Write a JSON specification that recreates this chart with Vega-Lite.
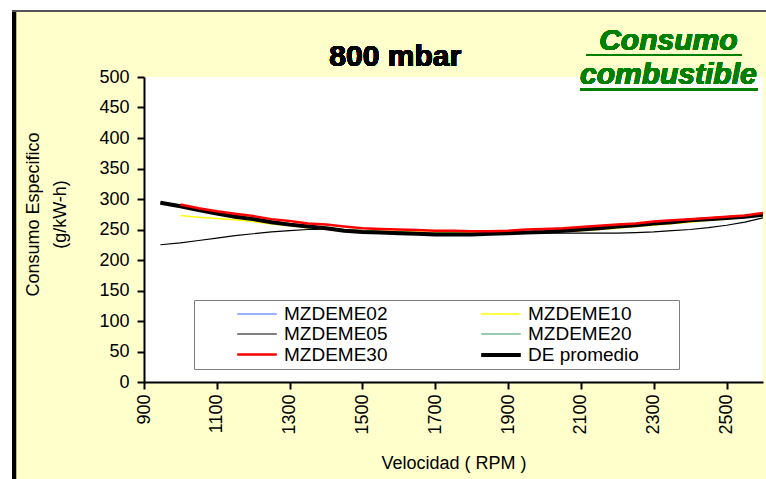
{
 "$schema": "https://vega.github.io/schema/vega-lite/v6.json",
 "width": 619, "height": 305,
 "autosize": {"type": "none"},
 "padding": {"left": 144, "top": 77, "right": 3, "bottom": 97},
 "background": "white",
 "config": {"view": {"fill": "white", "stroke": null}, "font": "Liberation Sans", "axisY": {"tickCount": 12, "labelOverlap": false}},
 "data": {"values": [
  {"rpm": 930, "MZDEME10": 277, "MZDEME30": 298},
  {"rpm": 945, "MZDEME02": 294, "MZDEME05": 225, "MZDEME20": 295, "DE promedio": 294},
  {"rpm": 1000, "MZDEME02": 288, "MZDEME05": 228, "MZDEME10": 273, "MZDEME20": 290, "MZDEME30": 291, "DE promedio": 288},
  {"rpm": 1050, "MZDEME02": 282, "MZDEME05": 232, "MZDEME10": 270, "MZDEME20": 284, "MZDEME30": 285, "DE promedio": 282},
  {"rpm": 1100, "MZDEME02": 276, "MZDEME05": 236, "MZDEME10": 268, "MZDEME20": 278, "MZDEME30": 280, "DE promedio": 276},
  {"rpm": 1150, "MZDEME02": 271, "MZDEME05": 240, "MZDEME10": 266, "MZDEME20": 273, "MZDEME30": 276, "DE promedio": 271},
  {"rpm": 1200, "MZDEME02": 267, "MZDEME05": 243, "MZDEME10": 263, "MZDEME20": 269, "MZDEME30": 272, "DE promedio": 267},
  {"rpm": 1250, "MZDEME02": 262, "MZDEME05": 246, "MZDEME10": 259, "MZDEME20": 264, "MZDEME30": 267, "DE promedio": 262},
  {"rpm": 1300, "MZDEME02": 258, "MZDEME05": 248, "MZDEME10": 256, "MZDEME20": 260, "MZDEME30": 264, "DE promedio": 258},
  {"rpm": 1350, "MZDEME02": 255, "MZDEME05": 250, "MZDEME10": 253, "MZDEME20": 257, "MZDEME30": 260, "DE promedio": 255},
  {"rpm": 1400, "MZDEME02": 252, "MZDEME05": 250, "MZDEME10": 251, "MZDEME20": 253, "MZDEME30": 258, "DE promedio": 252},
  {"rpm": 1450, "MZDEME02": 248, "MZDEME05": 249, "MZDEME10": 249, "MZDEME20": 250, "MZDEME30": 255, "DE promedio": 248},
  {"rpm": 1500, "MZDEME02": 246, "MZDEME05": 248, "MZDEME10": 248, "MZDEME20": 248, "MZDEME30": 252, "DE promedio": 246},
  {"rpm": 1550, "MZDEME02": 245, "MZDEME05": 247, "MZDEME10": 247, "MZDEME20": 247, "MZDEME30": 251, "DE promedio": 245},
  {"rpm": 1600, "MZDEME02": 244, "MZDEME05": 246, "MZDEME10": 247, "MZDEME20": 246, "MZDEME30": 250, "DE promedio": 244},
  {"rpm": 1650, "MZDEME02": 243, "MZDEME05": 245, "MZDEME10": 246, "MZDEME20": 245, "MZDEME30": 249, "DE promedio": 243},
  {"rpm": 1700, "MZDEME02": 242, "MZDEME05": 244, "MZDEME10": 245, "MZDEME20": 244, "MZDEME30": 248, "DE promedio": 242},
  {"rpm": 1750, "MZDEME02": 242, "MZDEME05": 244, "MZDEME10": 245, "MZDEME20": 244, "MZDEME30": 248, "DE promedio": 242},
  {"rpm": 1800, "MZDEME02": 242, "MZDEME05": 244, "MZDEME10": 245, "MZDEME20": 244, "MZDEME30": 247, "DE promedio": 242},
  {"rpm": 1850, "MZDEME02": 243, "MZDEME05": 244, "MZDEME10": 245, "MZDEME20": 245, "MZDEME30": 247, "DE promedio": 243},
  {"rpm": 1900, "MZDEME02": 244, "MZDEME05": 244, "MZDEME10": 245, "MZDEME20": 246, "MZDEME30": 248, "DE promedio": 244},
  {"rpm": 1950, "MZDEME02": 245, "MZDEME05": 244, "MZDEME10": 245, "MZDEME20": 247, "MZDEME30": 250, "DE promedio": 245},
  {"rpm": 2000, "MZDEME02": 246, "MZDEME05": 244, "MZDEME10": 246, "MZDEME20": 248, "MZDEME30": 251, "DE promedio": 246},
  {"rpm": 2050, "MZDEME02": 248, "MZDEME05": 244, "MZDEME10": 247, "MZDEME20": 250, "MZDEME30": 252, "DE promedio": 248},
  {"rpm": 2100, "MZDEME02": 250, "MZDEME05": 244, "MZDEME10": 248, "MZDEME20": 252, "MZDEME30": 254, "DE promedio": 250},
  {"rpm": 2150, "MZDEME02": 252, "MZDEME05": 244, "MZDEME10": 250, "MZDEME20": 254, "MZDEME30": 256, "DE promedio": 252},
  {"rpm": 2200, "MZDEME02": 255, "MZDEME05": 244, "MZDEME10": 252, "MZDEME20": 256, "MZDEME30": 258, "DE promedio": 255},
  {"rpm": 2250, "MZDEME02": 257, "MZDEME05": 245, "MZDEME10": 255, "MZDEME20": 258, "MZDEME30": 260, "DE promedio": 257},
  {"rpm": 2300, "MZDEME02": 260, "MZDEME05": 246, "MZDEME10": 257, "MZDEME20": 261, "MZDEME30": 263, "DE promedio": 260},
  {"rpm": 2350, "MZDEME02": 262, "MZDEME05": 248, "MZDEME10": 260, "MZDEME20": 263, "MZDEME30": 265, "DE promedio": 262},
  {"rpm": 2400, "MZDEME02": 265, "MZDEME05": 250, "MZDEME10": 262, "MZDEME20": 266, "MZDEME30": 267, "DE promedio": 265},
  {"rpm": 2450, "MZDEME02": 267, "MZDEME05": 253, "MZDEME10": 265, "MZDEME20": 268, "MZDEME30": 269, "DE promedio": 267},
  {"rpm": 2500, "MZDEME02": 269, "MZDEME05": 257, "MZDEME10": 267, "MZDEME20": 270, "MZDEME30": 271, "DE promedio": 269},
  {"rpm": 2550, "MZDEME02": 271, "MZDEME05": 262, "MZDEME10": 270, "MZDEME20": 272, "MZDEME30": 273, "DE promedio": 271},
  {"rpm": 2600, "MZDEME02": 274, "MZDEME05": 269, "MZDEME10": 273, "MZDEME20": 275, "MZDEME30": 277, "DE promedio": 274}
 ]},
 "layer": [
  {
   "mark": {"type": "rect", "fill": "#FFFFCC", "clip": false},
   "encoding": {"x": {"datum": 537.5}, "x2": {"datum": 4000}, "y": {"datum": 609.8}, "y2": {"datum": -500}}
  },
  {
   "mark": {"type": "rect", "fill": "white"},
   "encoding": {"x": {"datum": 900}, "x2": {"datum": 2600}, "y": {"datum": 0}, "y2": {"datum": 500}}
  },
  {
   "mark": {"type": "rule", "color": "black", "strokeWidth": 4, "clip": false},
   "encoding": {"x": {"datum": 543}, "y": {"datum": 609.8}, "y2": {"datum": -500}}
  },
  {
   "mark": {"type": "rule", "color": "#555555", "strokeWidth": 2, "clip": false},
   "encoding": {"x": {"datum": 537.5}, "x2": {"datum": 4000}, "y": {"datum": 608}}
  },
  {
   "transform": [{"fold": ["MZDEME02", "MZDEME05", "MZDEME10", "MZDEME20", "DE promedio", "MZDEME30"], "as": ["serie", "valor"]}],
   "mark": {"type": "line", "clip": true},
   "encoding": {
    "x": {"field": "rpm", "type": "quantitative", "scale": {"domain": [900, 2600], "nice": false, "zero": false},
      "axis": {"values": [900, 1100, 1300, 1500, 1700, 1900, 2100, 2300, 2500], "tickCount": 12, "format": "d", "zindex": 1, "grid": false, "labelAngle": 270, "labelFontSize": 18, "labelColor": "black", "labelPadding": 5, "labelOverlap": false, "domainColor": "black", "domainWidth": 2, "tickColor": "black", "tickWidth": 2, "tickSize": 7, "title": "Velocidad ( RPM )", "titleFontSize": 18, "titleFontWeight": "normal", "titleColor": "black", "titleY": 72, "titleBaseline": "top"}},
    "y": {"field": "valor", "type": "quantitative", "scale": {"domain": [0, 500], "nice": false},
      "axis": {"values": [0, 50, 100, 150, 200, 250, 300, 350, 400, 450, 500], "tickCount": 12, "format": "d", "zindex": 1, "grid": false, "labelFontSize": 18, "labelColor": "black", "labelPadding": 8, "labelOverlap": false, "domainColor": "black", "domainWidth": 2, "tickColor": "black", "tickWidth": 2, "tickSize": 7, "title": ["Consumo Especifico", "(g/kW-h)"], "titleFontSize": 18, "titleFontWeight": "normal", "titleColor": "black", "titleX": -102, "titleY": 137, "titleLineHeight": 27, "titleBaseline": "bottom", "titleAngle": 270}},
    "color": {"field": "serie", "type": "ordinal",
      "scale": {"type": "ordinal", "domain": ["MZDEME02", "MZDEME05", "MZDEME30", "MZDEME10", "MZDEME20", "DE promedio"], "range": ["#3366FF", "#000000", "#FF0000", "#FFFF00", "#339966", "#000000"]},
      "legend": {"title": " ", "titleOrient": "right", "titlePadding": 36, "orient": "none", "legendX": 50, "legendY": 223, "columns": 2, "fillColor": "white", "strokeColor": "#808080", "padding": 4, "symbolType": "M-2.2,0H2.2", "symbolSize": 324, "symbolOffset": 48, "labelFontSize": 19, "labelColor": "black", "labelOffset": 16, "columnPadding": 54, "rowPadding": 0, "labelLimit": 200}},
    "strokeWidth": {"field": "serie", "type": "ordinal",
      "scale": {"type": "ordinal", "domain": ["MZDEME02", "MZDEME05", "MZDEME30", "MZDEME10", "MZDEME20", "DE promedio"], "range": [1.2, 1.2, 2.5, 1.5, 1.2, 4]},
      "legend": {"title": " ", "titleOrient": "right", "titlePadding": 36, "orient": "none", "legendX": 50, "legendY": 223, "columns": 2, "fillColor": "white", "strokeColor": "#808080", "padding": 4, "symbolType": "M-2.2,0H2.2", "symbolSize": 324, "symbolOffset": 48, "labelFontSize": 19, "labelColor": "black", "labelOffset": 16, "columnPadding": 54, "rowPadding": 0, "labelLimit": 200}}
   }
  },
  {
   "mark": {"type": "text", "font": "Liberation Sans", "fontSize": 30, "fontWeight": "bold", "color": "black", "align": "center", "baseline": "alphabetic"},
   "encoding": {"x": {"datum": 1590}, "y": {"datum": 518}, "text": {"value": "800 mbar"}}
  },
  {
   "mark": {"type": "text", "font": "Liberation Sans", "fontSize": 30, "fontStyle": "italic", "fontWeight": "bold", "color": "#008000", "align": "center", "baseline": "alphabetic", "lineHeight": 34},
   "encoding": {"x": {"datum": 2340}, "y": {"datum": 544}, "text": {"value": ["Consumo", "combustible"]}}
  },
  {
   "mark": {"type": "rule", "color": "#008000", "strokeWidth": 2},
   "encoding": {"x": {"datum": 2114}, "x2": {"datum": 2540}, "y": {"datum": 536}}
  },
  {
   "mark": {"type": "rule", "color": "#008000", "strokeWidth": 2},
   "encoding": {"x": {"datum": 2098}, "x2": {"datum": 2584}, "y": {"datum": 480}}
  }
 ]
}
